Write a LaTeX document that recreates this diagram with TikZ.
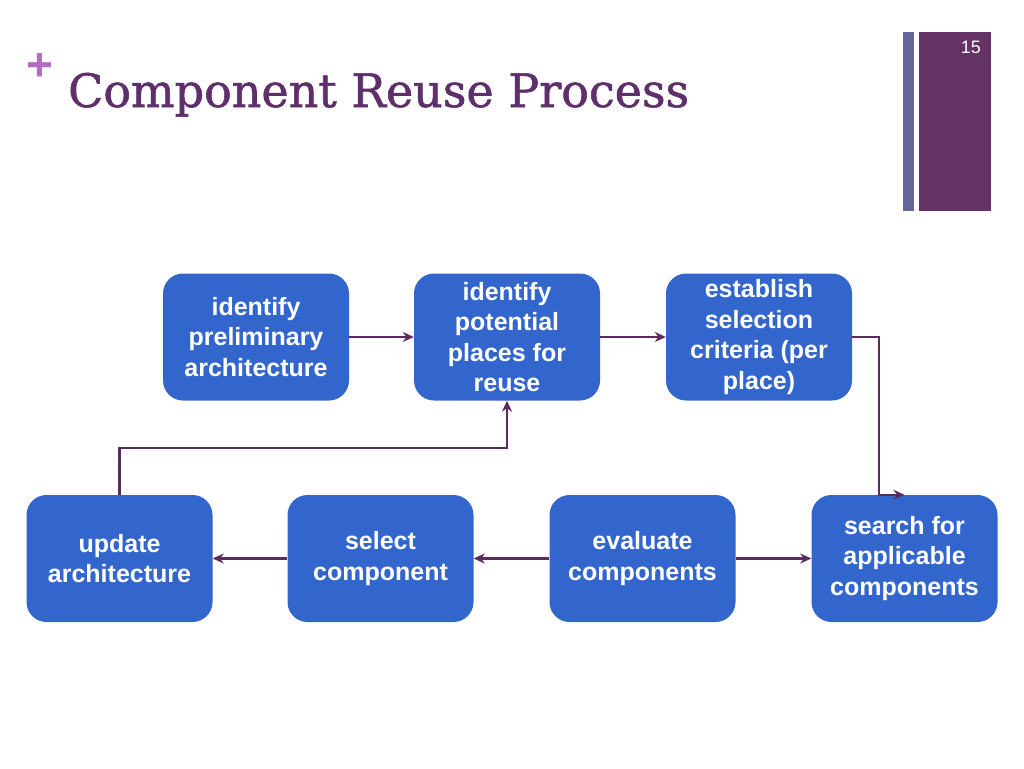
\documentclass[tikz,border=0pt]{standalone}
\usepackage{fontspec}
\setmainfont{Liberation Sans}
\newfontfamily\titlefont[FakeBold=1.2]{DejaVu Serif}
\usetikzlibrary{arrows.meta}
\definecolor{boxblue}{HTML}{3366CC}
\definecolor{linepurple}{HTML}{5E2B5E}
\definecolor{titlepurple}{HTML}{5F2F6B}
\definecolor{pluspurple}{HTML}{B36CC0}
\definecolor{barblue}{HTML}{64669B}
\definecolor{barpurple}{HTML}{643264}
\begin{document}
\begin{tikzpicture}[x=1pt,y=-1pt,
 proc/.style={fill=boxblue, rounded corners=20pt, minimum width=186pt, minimum height=127pt,
   text=white, font=\fontsize{25}{30.5}\selectfont\bfseries, align=center, inner sep=0pt},
 conn/.style={draw=linepurple, line width=2.2pt, -{Stealth[length=11pt,width=10pt]}}
]
\useasboundingbox[fill=white] (0,0) rectangle (1024,768);
% header
\node[text=pluspurple, font=\fontsize{46}{46}\selectfont\bfseries, inner sep=0pt] (plus) at (39.5,67.5) {+};
\node[anchor=base west, font=\titlefont\fontsize{46}{54}\selectfont, text=titlepurple, inner sep=0pt] (title) at (68,107) {Component Reuse Process};
\fill[barblue] (903,32) rectangle (914,211);
\fill[barpurple] (919,32) rectangle (991,211);
\node[anchor=base east, text=white, font=\fontsize{18}{18}\selectfont, inner sep=0pt] (num) at (981,54) {15};
% boxes
\node[proc] (b1) at (256,337) {identify\\preliminary\\architecture};
\node[proc] (b2) at (507,337) {identify\\potential\\places for\\reuse};
\node[proc] (b3) at (759,337) {establish\\selection\\criteria (per\\place)};
\node[proc] (b4) at (119.5,558.5) {update\\architecture};
\node[proc] (b5) at (380.5,558.5) {select\\component};
\node[proc] (b6) at (642.5,558.5) {evaluate\\components};
\node[proc] (b7) at (904.5,558.5) {search for\\applicable\\components};
% connectors
\draw[conn] (b1.east) -- (b2.west);
\draw[conn] (b2.east) -- (b3.west);
\draw[conn] (b3.east) -- ++(27,0) |- (b7.north);
\draw[conn] (b6.east) -- (b7.west);
\draw[conn] (b6.west) -- (b5.east);
\draw[conn] (b5.west) -- (b4.east);
\draw[conn] (b4.north) -- ++(0,-47) -| (b2.south);
\end{tikzpicture}
\end{document}
